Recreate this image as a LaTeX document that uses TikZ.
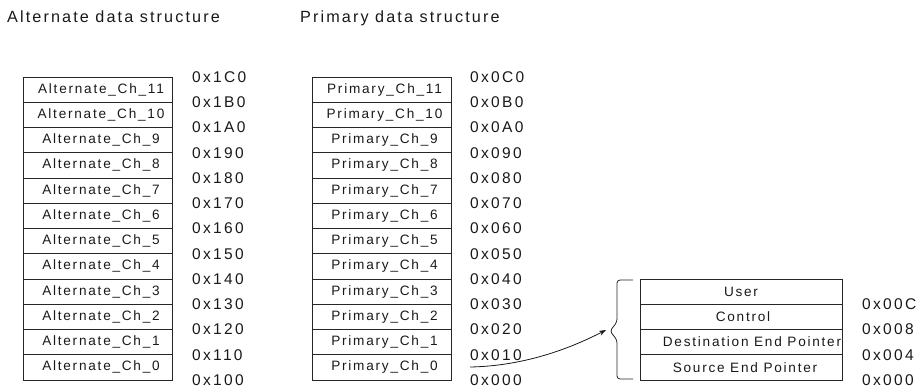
\documentclass[tikz,border=0pt]{standalone}
\usepackage{fontspec}
\setmainfont{Liberation Sans}[LetterSpace=13]
\newfontfamily\hexfont{Liberation Sans}[LetterSpace=15]
\newfontfamily\titlefont{Liberation Sans}[LetterSpace=13]
\usetikzlibrary{arrows.meta}
\begin{document}
\begin{tikzpicture}[x=1pt,y=-1pt,
  cell/.style={draw=black!85,line width=0.8pt,minimum height=25.25pt,inner sep=0pt,text=black!90,font=\fontsize{13.6}{15}\selectfont},
  altcell/.style={cell,minimum width=149pt},
  pricell/.style={cell,minimum width=139pt},
  desccell/.style={cell,minimum width=202pt},
  hex/.style={anchor=west,inner sep=0pt,text=black!90,font=\hexfont\fontsize{15.5}{17}\selectfont},
  title/.style={anchor=west,inner sep=0pt,text=black!90,font=\titlefont\fontsize{16.2}{18}\selectfont},
  brace/.style={draw=black!85,line width=0.8pt,rounded corners=3pt},
  link/.style={draw=black!90,line width=0.8pt,-{Stealth[length=7pt,width=5pt]}}]
\useasboundingbox (0,0) rectangle (917,389);
% titles
\node[title] (talt) at (7,17) {Alternate data structure};
\node[title] (tpri) at (300,18) {Primary data structure};
% alternate column
\foreach \i in {0,...,11}
  \node[altcell] (a\i) at (97.5,{380-25.25*\i-12.625}) {\hspace*{7pt}Alternate\_Ch\_\i};
\foreach \i/\h in {0/0,1/1,2/2,3/3,4/4,5/5,6/6,7/7,8/8,9/9,10/A,11/B,12/C}
  \node[hex] (ha\i) at (192,{380-25.25*\i}) {0x1\h0};
% primary column
\foreach \i in {0,...,11}
  \node[pricell] (p\i) at (381.5,{380-25.25*\i-12.625}) {\hspace*{6pt}Primary\_Ch\_\i};
\foreach \i/\h in {0/0,1/1,2/2,3/3,4/4,5/5,6/6,7/7,8/8,9/9,10/A,11/B,12/C}
  \node[hex] (hp\i) at (470,{380-25.25*\i}) {0x0\h0};
% descriptor
\node[desccell] (s0) at (741,{380-12.625}) {\hspace*{8pt}Source End Pointer};
\node[desccell] (s1) at (741,{380-25.25-12.625}) {\hspace*{22pt}Destination End Pointer};
\node[desccell] (s2) at (741,{380-50.5-12.625}) {\hspace*{4pt}Control};
\node[desccell] (s3) at (741,{380-75.75-12.625}) {User};
\node[hex] (hs0) at (862,380) {0x000};
\node[hex] (hs1) at (862,{380-25.25}) {0x004};
\node[hex] (hs2) at (862,{380-50.5}) {0x008};
\node[hex] (hs3) at (862,{380-75.75}) {0x00C};
% brace
\coordinate (bt) at (610,331);
\draw[brace] (633,280) -- (617,280) -- (617,322) -- (bt) -- (617,340) -- (617,379) -- (633,379);
% arrow
\coordinate (cs) at (470,367);
\coordinate (ce) at (606,330);
\draw[link] (cs) .. controls +(55,-1) and +(-35,18) .. (ce);
\end{tikzpicture}
\end{document}
